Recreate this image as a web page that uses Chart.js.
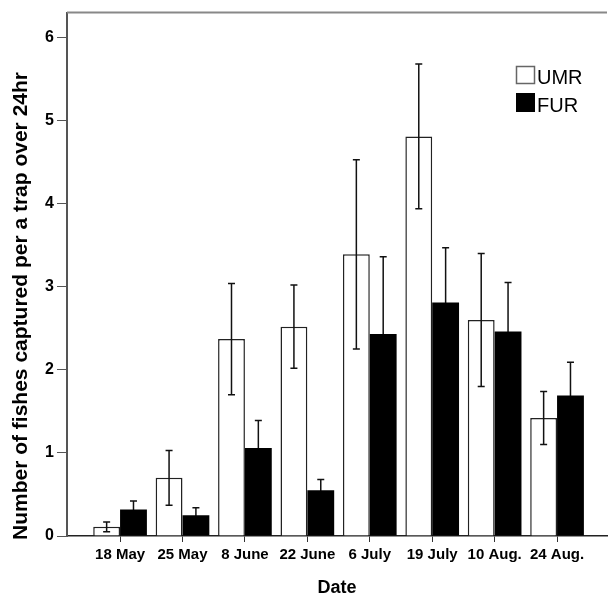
<!DOCTYPE html>
<html>
<head>
<meta charset="utf-8">
<script src="https://cdn.jsdelivr.net/npm/chart.js@4"></script>
<style>
  body { margin: 0; background: #fff; }
  #fishChart { display: block; }
</style>
</head>
<body>
<canvas id="fishChart" width="609" height="597"></canvas>
<script>
// values (mean and half-width of error bar)
const dates = ["18 May", "25 May", "8 June", "22 June", "6 July", "19 July", "10 Aug.", "24 Aug."];
const umr = [0.11, 0.70, 2.37, 2.52, 3.39, 4.81, 2.60, 1.42];
const umrErr = [0.06, 0.33, 0.67, 0.50, 1.14, 0.87, 0.80, 0.32];
const fur = [0.32, 0.25, 1.06, 0.55, 2.43, 2.81, 2.46, 1.69];
const furErr = [0.10, 0.09, 0.33, 0.13, 0.93, 0.66, 0.59, 0.40];
const yTicks = [0, 1, 2, 3, 4, 5, 6];

const errs = [umrErr, furErr];
const FONT = "'Liberation Sans', Arial, sans-serif";

function drawErrors(chart, di) {
    const ctx = chart.ctx;
    const y = chart.scales.y;
    const ds = chart.data.datasets[di];
    const meta = chart.getDatasetMeta(di);
    ctx.save();
    ctx.strokeStyle = "#111";
    ctx.lineWidth = 1.5;
    meta.data.forEach((bar, i) => {
        const v = ds.data[i].y;
        const hi = y.getPixelForValue(v + errs[di][i]);
        const lo = y.getPixelForValue(Math.max(0, v - errs[di][i]));
        ctx.beginPath();
        ctx.moveTo(bar.x, hi);
        ctx.lineTo(bar.x, lo);
        ctx.moveTo(bar.x - 3.5, hi);
        ctx.lineTo(bar.x + 3.5, hi);
        ctx.moveTo(bar.x - 3.5, lo);
        ctx.lineTo(bar.x + 3.5, lo);
        ctx.stroke();
    });
    ctx.restore();
}

const extras = {
    id: "extras",
    beforeDatasetsDraw(chart) {
        // FUR whiskers go under the black bars, like the original
        drawErrors(chart, 1);
    },
    afterDatasetsDraw(chart) {
        const ctx = chart.ctx;
        const area = chart.chartArea;

        drawErrors(chart, 0);

        // top frame line
        ctx.save();
        ctx.strokeStyle = "#888";
        ctx.lineWidth = 2;
        ctx.beginPath();
        ctx.moveTo(area.left, area.top);
        ctx.lineTo(area.right, area.top);
        ctx.stroke();
        ctx.restore();

        // legend
        ctx.save();
        ctx.lineWidth = 1.5;
        ctx.fillStyle = "#fff";
        ctx.strokeStyle = "#666";
        ctx.fillRect(516.5, 66.5, 18, 17);
        ctx.strokeRect(516.5, 66.5, 18, 17);
        ctx.fillStyle = "#000";
        ctx.fillRect(516, 93, 19, 19);
        ctx.font = "20px " + FONT;
        ctx.textBaseline = "alphabetic";
        ctx.fillText("UMR", 537, 84);
        ctx.fillText("FUR", 537, 112);
        ctx.restore();

        // y axis title
        ctx.save();
        ctx.translate(21, 306);
        ctx.rotate(-Math.PI / 2);
        ctx.font = "bold 21px " + FONT;
        ctx.textAlign = "center";
        ctx.textBaseline = "middle";
        ctx.fillStyle = "#000";
        ctx.fillText("Number of fishes captured per a trap over 24hr", 0, 0);
        ctx.restore();
    }
};

new Chart(document.getElementById("fishChart"), {
    type: "bar",
    data: {
        datasets: [{
            label: "UMR",
            data: umr.map((v, i) => ({ x: i, y: v })),
            backgroundColor: "#fff",
            borderColor: "#222",
            borderWidth: 1.5
        }, {
            label: "FUR",
            data: fur.map((v, i) => ({ x: i, y: v })),
            backgroundColor: "#000",
            borderColor: "#000",
            borderWidth: 0
        }]
    },
    options: {
        responsive: false,
        animation: false,
        events: [],
        layout: { padding: { top: 10, right: 2, left: 0, bottom: 0 } },
        datasets: { bar: { categoryPercentage: 0.86, barPercentage: 1.0 } },
        plugins: {
            legend: { display: false },
            tooltip: { enabled: false }
        },
        scales: {
            x: {
                type: "linear",
                min: -0.85,
                max: 7.8,
                offset: false,
                afterBuildTicks: s => { s.ticks = dates.map((d, i) => ({ value: i })); },
                afterFit: s => { s.height = 61; },
                grid: { offset: false, drawOnChartArea: false, tickLength: 6, color: "#333" },
                border: { color: "#222", width: 1.5 },
                ticks: {
                    autoSkip: false,
                    maxRotation: 0,
                    padding: 4,
                    color: "#000",
                    font: { family: FONT, size: 15, weight: "bold" },
                    callback: v => dates[v]
                },
                title: {
                    display: true,
                    text: "Date",
                    color: "#000",
                    padding: 0,
                    font: { family: FONT, size: 18, weight: "bold", lineHeight: 1 }
                }
            },
            y: {
                min: 0,
                max: 6.3,
                afterBuildTicks: s => { s.ticks = yTicks.map(v => ({ value: v })); },
                afterFit: s => { s.width = 67; },
                grid: { drawOnChartArea: false, tickLength: 10, color: "#555" },
                border: { color: "#555", width: 2 },
                ticks: {
                    padding: 3,
                    color: "#000",
                    font: { family: FONT, size: 16, weight: "bold" }
                }
            }
        }
    },
    plugins: [extras]
});
</script>
</body>
</html>
